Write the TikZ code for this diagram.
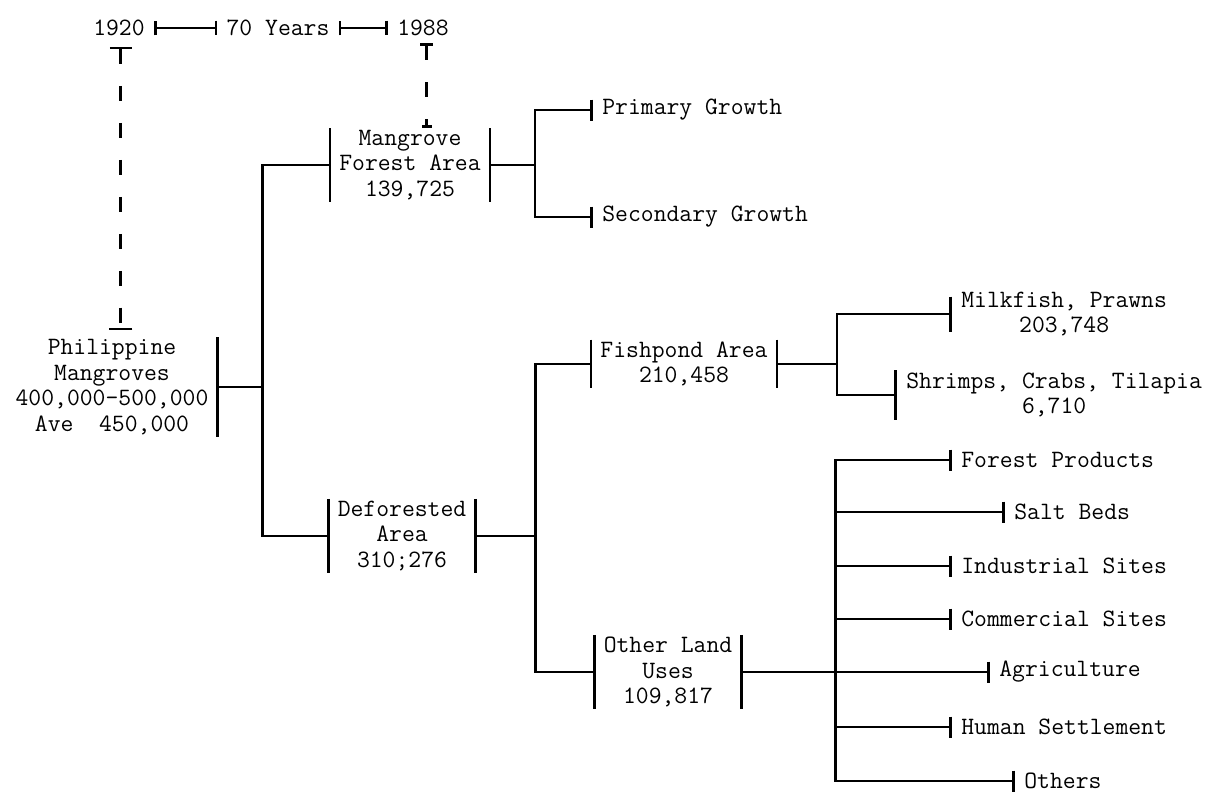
\documentclass[tikz,border=0pt]{standalone}
\usepackage{fontspec}
\usepackage{tikz}
\usetikzlibrary{arrows.meta}

\begin{document}
\begin{tikzpicture}[
  x=0.02cm, y=-0.02cm,
  % ── text styles ──────────────────────────────────────────
  txt/.style={font=\ttfamily\fontsize{14.2}{14.5}\selectfont,
              align=center, inner xsep=0.18cm, inner ysep=1pt},
  leaf/.style={txt, anchor=west},
  % ── line styles ──────────────────────────────────────────
  conn/.style={line width=1.5pt, black},
  leafarr/.style={conn, -{Bar[width=#1]}},
  leafarr/.default=0.42cm,
  yearspan/.style={conn, {Bar[width=0.3cm]}-{Bar[width=0.3cm]}},
  dashln/.style={conn, dash pattern=on 0.3cm off 0.44cm}
]
\useasboundingbox (0,0) rectangle (1219,801);

%% ── Time line ──
\node[txt] (y20) at (119,28) {1920};
\node[txt] (yrs) at (278,28) {70 Years};
\node[txt] (y88) at (423,28) {1988};

%% ── Root ──
\node[txt] (phil) at (112,387) {Philippine\\Mangroves\\400,000-500,000\\Ave~~450,000};

%% ── Level 1 ──
\node[txt] (mfa) at (410,165) {Mangrove\\Forest Area\\139,725};
\node[txt] (dfa) at (402,536) {Deforested\\Area\\310;276};

%% ── Level 2 ──
\node[txt] (fpa) at (684,364) {Fishpond Area\\210,458};
\node[txt] (olu) at (668,672) {Other Land\\Uses\\109,817};

%% ── Mangrove forest leaves ──
\node[leaf] (pg)  at (593,110) {Primary Growth};
\node[leaf] (sg)  at (593,217) {Secondary Growth};

%% ── Fishpond leaves ──
\node[leaf] (mp)  at (952,314) {Milkfish, Prawns\\203,748};
\node[leaf] (scr) at (897,395) {Shrimps, Crabs, Tilapia\\6,710};

%% ── Other land use leaves ──
\node[leaf] (fp)  at (952,460)  {Forest Products};
\node[leaf] (sb)  at (1005,512) {Salt Beds};
\node[leaf] (is)  at (952,566)  {Industrial Sites};
\node[leaf] (cs)  at (952,619)  {Commercial Sites};
\node[leaf] (ag)  at (990,672)  {Agriculture};
\node[leaf] (hs)  at (952,727)  {Human Settlement};
\node[leaf] (ot)  at (1015,781) {Others};

%% ── Edges: time line ──
\draw[yearspan] (y20.east) -- (yrs.west);
\draw[yearspan] (yrs.east) -- (y88.west);
\coordinate (d1) at ([xshift=1pt,yshift=-5pt]y20.south);
\coordinate (d1e) at ([yshift=4pt]phil.north);
\coordinate (d2) at ([xshift=2pt,yshift=-3pt]y88.south);
\draw[dashln, {Bar[width=0.44cm]}-{Bar[width=0.46cm]}] (d1) -- (d1 |- d1e);
\draw[dashln, {Bar[width=0.26cm]}-{Bar[width=0.2cm]}] (d2) -- (d2 |- mfa.north);

%% ── Bars beside the boxes ──
\foreach \n in {mfa,dfa,fpa,olu}
  \draw[conn] (\n.north west) -- (\n.south west) (\n.north east) -- (\n.south east);
\draw[conn] (phil.north east) -- (phil.south east);

%% ── Edges: root → level 1 ──
\draw[conn] (phil.east) -- ++(45,0) coordinate (t1);
\draw[conn] (t1) |- (mfa.west);
\draw[conn] (t1) |- (dfa.west);

%% ── Edges: mangrove forest → leaves ──
\draw[conn] (mfa.east) -- ++(45,0) coordinate (b1);
\draw[leafarr] (b1) |- (pg.west);
\draw[leafarr] (b1) |- (sg.west);

%% ── Edges: deforested → level 2 ──
\draw[conn] (dfa.east) -- ++(60,0) coordinate (b2);
\draw[conn] (b2) |- (fpa.west);
\draw[conn] (b2) |- (olu.west);

%% ── Edges: fishpond → leaves ──
\draw[conn] (fpa.east) -- ++(60,0) coordinate (b3);
\draw[leafarr=0.7cm] (b3) |- (mp.west);
\draw[leafarr=1cm]   (b3) |- (scr.west);

%% ── Edges: other land uses → leaves ──
\draw[conn] (olu.east) -- ++(94,0) coordinate (b4);
\foreach \n in {fp,sb,is,cs,ag,hs,ot}
  \draw[leafarr] (b4) |- (\n.west);

\end{tikzpicture}
\end{document}
